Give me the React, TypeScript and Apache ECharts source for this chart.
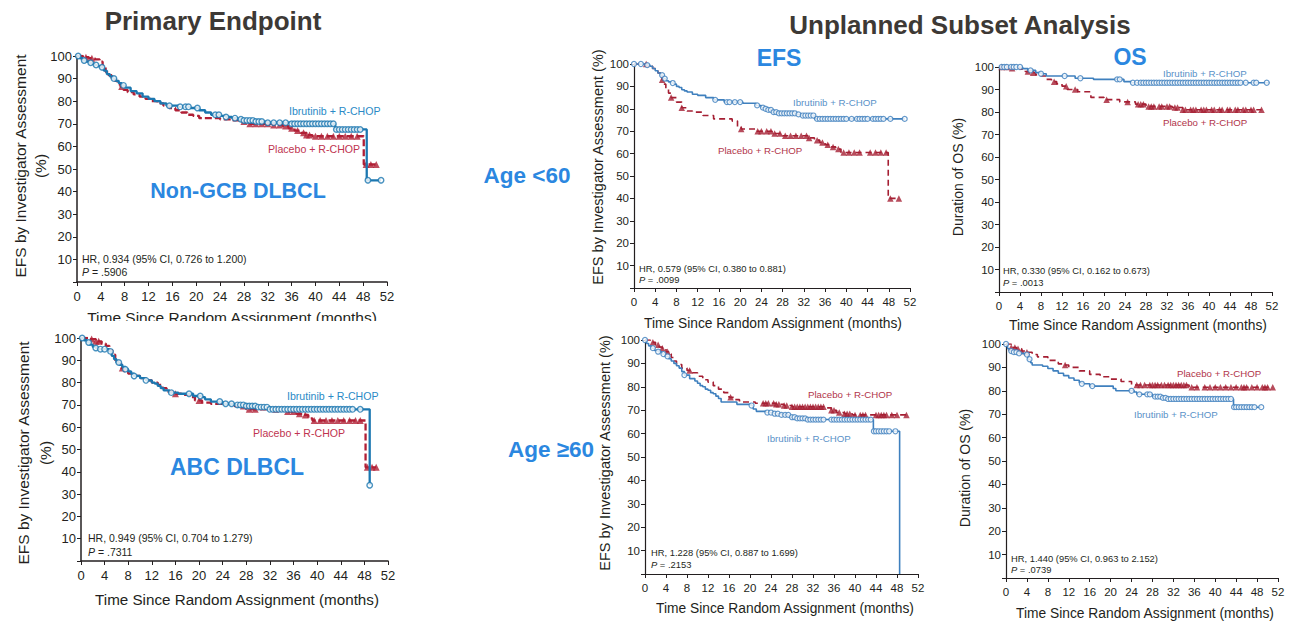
import React, { useEffect, useRef } from "react";
import * as echarts from "echarts";

// ---------- DATA ----------
const xTicks = [0, 4, 8, 12, 16, 20, 24, 28, 32, 36, 40, 44, 48, 52];
const yTicks = [10, 20, 30, 40, 50, 60, 70, 80, 90, 100];
const seriesNames = ["Ibrutinib + R-CHOP", "Placebo + R-CHOP"];

// Panel 1: Non-GCB DLBCL (EFS)
const nonGcbIbrT = [0, 0.5, 1, 1.5, 2, 2.5, 3, 3.5, 4, 4.5, 5, 5.5, 6, 6.5, 7, 7.5, 8, 9, 10, 11, 12, 13, 14, 15, 17, 19, 20.5, 21.5, 22.5, 24, 25, 26, 27, 28, 30, 32, 36, 43.3, 48.6, 51];
const nonGcbIbrS = [100, 99, 98, 97.5, 97, 96.5, 96, 95.5, 95, 93.5, 92, 91, 90, 89, 88, 87, 86, 84.5, 83.5, 82, 81, 80, 79, 78, 77.5, 77, 76, 75, 74, 73.5, 73, 72.5, 72, 71.5, 71, 70.5, 70, 67.5, 45, 45];
const nonGcbIbrC = [0.2, 1.2, 2.3, 3.2, 4.2, 6.2, 7.8, 15.5, 17.3, 18.2, 18.7, 20.2, 23.2, 23.8, 25, 26.5, 27.5, 28, 28.5, 29, 29.5, 30, 30.5, 31, 32, 33, 34, 35, 36, 36.5, 37, 37.5, 38, 38.5, 39, 39.5, 40, 40.5, 41, 41.5, 42, 42.5, 43, 43.5, 44, 44.5, 45, 45.5, 46, 46.5, 47, 47.5, 48.8, 51];
const nonGcbPlaT = [0, 1, 2, 3, 3.8, 4.3, 4.8, 5.3, 5.8, 6.3, 6.8, 7.3, 7.8, 8.5, 9.5, 10.5, 11.5, 12.5, 13.5, 14.5, 15.5, 16.5, 17.5, 18.5, 19.5, 20.5, 24, 26, 27.5, 29, 33, 34.5, 35.5, 36.5, 37.5, 38.5, 39.5, 48.1, 50.2];
const nonGcbPlaS = [100, 99.5, 99, 98.5, 97.5, 95, 93, 91.5, 90, 89, 87.5, 86.5, 85, 84, 83, 82, 81, 80, 79, 78, 77, 76, 75, 74, 73.5, 72.5, 72, 71.5, 71, 70, 69.5, 69, 68, 67, 66, 65, 64.5, 52, 52];
const nonGcbPlaC = [1.5, 2.5, 7.5, 28, 29, 30, 31, 32, 33, 34, 35, 36, 37, 38, 38.5, 39, 40, 41, 42, 43, 44, 45, 46, 47, 48.5, 49.3, 50.2];

// Panel 2: ABC DLBCL (EFS)
const abcIbrT = [0, 0.5, 1, 1.5, 2, 2.5, 3, 4.8, 5.2, 5.6, 6, 6.5, 7, 7.5, 8, 8.5, 9, 10, 11, 12, 12.5, 13, 13.5, 14, 15, 16.5, 19, 20.5, 21, 22, 24, 26, 28, 30, 32, 48.9];
const abcIbrS = [100, 99, 98, 97, 96, 95.5, 95, 94, 92, 90.5, 89, 88, 87, 86, 85, 84, 83, 82, 81, 80, 79.5, 78.5, 77.5, 76.5, 75.5, 75, 74, 73.5, 72.5, 71.5, 70.5, 70, 69.5, 69, 68, 34];
const abcIbrC = [0.2, 1.3, 2.5, 3.3, 4, 5, 6.4, 7.5, 9, 11, 15.3, 18.3, 20.2, 23.5, 24.5, 25.5, 26.5, 27, 27.5, 28, 28.5, 29, 29.5, 30, 30.5, 31, 31.5, 32, 32.5, 33, 33.5, 34, 34.5, 35, 35.5, 36, 36.5, 37, 37.5, 38, 38.5, 39, 39.5, 40, 40.5, 41, 41.5, 42, 42.5, 43, 43.5, 44, 44.5, 45, 45.5, 46, 47.3, 48.9];
const abcPlaT = [0, 1.5, 2.5, 3.5, 4.2, 4.8, 5.3, 5.8, 6.3, 6.8, 7.3, 8, 9, 10, 11, 12, 13, 13.8, 14.5, 15.5, 17, 18.5, 19.3, 20.5, 22, 26, 28, 33.5, 35, 36.5, 37.5, 38.5, 39.2, 48.2, 50];
const abcPlaS = [100, 99.5, 98.5, 97.5, 96.5, 94.5, 92.5, 90, 88.5, 86.5, 85, 84, 83, 82, 81, 80, 79, 77.5, 76, 75, 74.5, 73.5, 72, 71, 70.5, 69.5, 68, 67.5, 67, 66, 65.5, 64, 63, 42, 42];
const abcPlaC = [1.8, 2.5, 3, 7, 16, 20, 27.5, 28.5, 29.5, 33, 35, 36, 37, 38, 39.5, 40.5, 41.5, 42.5, 43.5, 44.5, 45.5, 46.5, 47.3, 48.5, 49.3, 50];

// Panel 3: EFS, age < 60
const efsYIbrT = [0, 2.5, 3, 3.5, 4, 4.5, 5, 5.5, 6, 6.5, 7, 7.5, 8, 8.5, 9, 9.5, 10, 11, 12, 13.5, 15, 17, 20.5, 23, 24, 24.5, 25, 26, 27, 30.5, 31.5, 34, 51];
const efsYIbrS = [100, 99.5, 99, 98, 97, 96, 95, 93.5, 92.5, 92, 91.5, 91, 90, 89.5, 88.5, 88, 87.5, 86.5, 86, 85, 84, 83, 82.5, 81.5, 80.5, 80, 79.5, 78.5, 78, 77.5, 77, 75.5, 75.5];
const efsYIbrC = [0, 1.3, 2.5, 5.3, 5.8, 7.3, 15.3, 17.5, 18, 19, 20, 23.2, 24.3, 24.8, 25.3, 25.8, 26.3, 26.8, 27.3, 27.8, 28.3, 28.8, 29.3, 29.8, 30.3, 31, 31.8, 32.3, 32.8, 33.3, 33.8, 34.5, 35, 35.5, 36, 36.5, 37, 37.5, 38, 38.5, 39, 39.5, 40, 41, 42, 42.5, 43, 43.5, 44, 45, 45.5, 46, 46.5, 47, 48.3, 51];
const efsYPlaT = [0, 2.5, 3, 3.5, 4, 4.5, 5, 5.3, 5.6, 6, 6.5, 7, 8, 9, 10, 11, 13, 15, 18.5, 19.5, 20.2, 23, 26, 28, 33, 34, 35, 36, 37, 38, 39, 47.9, 50];
const efsYPlaS = [100, 99.5, 99, 98, 97, 96, 94.5, 93, 91, 89, 87, 85, 83, 80.5, 79, 78.5, 77, 75.5, 74.5, 72, 71, 70, 69, 68, 67, 66, 65, 64, 63, 62, 60.5, 40, 40];
const efsYPlaC = [2.3, 5.3, 7, 9, 20.2, 23.3, 24, 25, 25.8, 26.5, 27.5, 28.5, 29.5, 30.5, 31.5, 32.5, 33, 34.5, 35.5, 36.5, 37.5, 38.5, 39.5, 40.5, 41.5, 42.5, 44.5, 45.5, 46.5, 47.5, 48.3, 49.9];

// Panel 4: EFS, age >= 60
const efsOIbrT = [0, 0.3, 0.7, 1.2, 1.8, 2.5, 3.2, 3.8, 4.5, 5, 5.5, 6, 6.5, 7, 7.5, 8.5, 9.5, 10, 10.5, 11, 11.5, 12, 12.5, 13, 13.5, 14, 14.5, 17.5, 20.2, 20.6, 21.2, 23, 24.5, 26, 27.5, 29, 31, 43.5, 48.5];
const efsOIbrS = [100, 98.5, 97.5, 96.5, 95.5, 95, 94, 93, 92, 91, 90, 89, 88, 86.5, 85, 83.5, 82.5, 81.5, 80.5, 80, 79, 78.5, 77.5, 77, 76, 75, 73.5, 72.5, 72, 70.5, 69.5, 69, 68.5, 68, 67, 66.5, 66, 61, 0];
const efsOIbrC = [0, 1.5, 2.5, 3.5, 4.3, 7.5, 20.3, 23.3, 24, 24.7, 25.3, 26, 26.7, 27.3, 28, 28.5, 29, 29.5, 30, 30.5, 31, 31.5, 32, 32.5, 33, 33.5, 34, 35.5, 36, 36.5, 37, 37.5, 38, 38.5, 39, 39.5, 40, 40.5, 41, 41.5, 42, 42.5, 43, 43.6, 44, 44.5, 45, 45.5, 46, 46.5, 47.7];
const efsOPlaT = [0, 1, 2, 2.7, 3.3, 4, 4.5, 5, 5.5, 6, 7, 8, 9, 10, 11, 12, 13, 14, 15, 16, 17, 18, 21, 25, 26.5, 28, 34.5, 35.5, 36.5, 38, 39.5, 50];
const efsOPlaS = [100, 99, 98, 97, 96.5, 95, 94, 92.5, 91, 89.5, 88, 87, 86, 84.5, 83, 82, 80.5, 79, 77.5, 75.5, 74.5, 73.5, 73, 72.5, 72, 71.5, 71, 70, 69, 68.5, 68, 68];
const efsOPlaC = [1.5, 2.5, 3.3, 4.3, 8.5, 16.3, 22.5, 23, 23.5, 24.5, 25, 25.5, 26.5, 27, 28, 28.5, 29, 29.5, 30, 30.5, 31, 31.5, 32, 32.5, 33, 33.5, 34, 35.5, 36, 37, 38, 38.5, 39, 40, 41, 41.5, 42, 44, 44.5, 45, 45.5, 46, 47, 48, 49.8];

// Panel 5: OS, age < 60
const osYIbrT = [0, 4.5, 5.5, 7, 8, 9, 14.5, 18, 23.8, 25.2, 51.5];
const osYIbrS = [100, 99.3, 98.5, 97.5, 97, 96, 95, 94.5, 93.5, 93, 93];
const osYIbrC = [0.5, 1, 1.5, 2.3, 2.8, 3.3, 4, 6, 8, 12.5, 15.5, 22.5, 23, 25.5, 26.3, 27, 27.5, 28, 28.5, 29, 29.5, 30, 30.5, 31, 31.5, 32, 32.5, 33, 33.5, 34, 34.5, 35, 35.5, 36, 36.5, 37, 37.5, 38, 38.5, 39, 39.5, 40, 40.5, 41, 41.5, 42, 42.5, 43, 43.5, 44, 44.5, 45, 45.5, 46, 47, 48.5, 49, 51];
const osYPlaT = [0, 2, 4, 5, 6, 7, 8, 9, 10, 11, 12, 13, 15, 17.5, 20, 23, 26, 28, 33, 35, 50];
const osYPlaS = [100, 99.5, 99, 98, 97.5, 96.5, 96, 94.5, 93.5, 92.5, 91.5, 90, 89, 86.5, 85.5, 84.5, 83.5, 82.5, 82, 81, 81];
const osYPlaC = [0.5, 1.5, 2.5, 5.5, 6.5, 10.5, 12.8, 14.5, 20.5, 24.5, 26.5, 27, 27.5, 28.5, 29, 29.5, 30.5, 31, 32, 32.5, 33.5, 34, 35, 35.5, 36.5, 37, 37.5, 38.5, 39, 39.5, 40.5, 41, 42, 42.5, 43.5, 44, 45, 45.5, 46.5, 47, 48, 48.5, 50];

// Panel 6: OS, age >= 60
const osOIbrT = [0, 0.3, 0.7, 1.5, 2.5, 3.5, 4.2, 4.7, 5, 7, 8, 9, 10, 11, 12, 13, 14, 14.5, 16, 20.5, 21, 24.5, 25, 28, 30, 31, 43.5, 48.8];
const osOIbrS = [100, 98, 97, 96.5, 96, 95.5, 93.5, 92, 91, 90.5, 89.5, 88.5, 87.5, 86.5, 85.5, 84.5, 83.5, 83, 82, 81, 80, 79.5, 78.5, 77.5, 77, 76.5, 73, 73];
const osOIbrC = [0, 1, 1.5, 2, 2.5, 4, 4.5, 14.5, 16.5, 24, 25.5, 27, 27.5, 28.5, 29, 29.5, 30, 30.5, 31, 31.5, 32, 32.5, 33, 33.5, 34, 34.5, 35, 35.5, 36, 36.5, 37, 37.5, 38, 38.5, 39, 39.5, 40, 40.5, 41, 41.5, 42, 42.5, 43, 43.6, 44, 44.5, 45, 45.5, 46, 46.5, 47, 47.5, 48.8];
const osOPlaT = [0, 1, 2, 3, 4, 5, 6, 8, 10, 11, 12, 14, 16, 18, 20, 22, 24, 35, 51];
const osOPlaS = [100, 98.5, 98, 97, 96.5, 95.5, 94.5, 93, 91.5, 91, 90, 88.5, 87, 86, 85, 84, 82.5, 81.5, 81.5];
const osOPlaC = [1, 1.7, 2.3, 3, 4, 11.3, 25, 25.7, 26.5, 27.5, 28, 28.5, 29, 29.7, 30.3, 31, 31.5, 32, 32.5, 33, 33.5, 34, 34.5, 35.5, 36.5, 38, 39, 40, 41, 42, 43, 44, 45, 45.5, 46, 47, 48, 49, 49.5, 50, 51];

const hrTexts = [
  "HR, 0.934 (95% CI, 0.726 to 1.200)",
  "HR, 0.949 (95% CI, 0.704 to 1.279)",
  "HR, 0.579 (95% CI, 0.380 to 0.881)",
  "HR, 1.228 (95% CI, 0.887 to 1.699)",
  "HR, 0.330 (95% CI, 0.162 to 0.673)",
  "HR, 1.440 (95% CI, 0.963 to 2.152)",
];
const pValues = [".5906", ".7311", ".0099", ".2153", ".0013", ".0739"];

// ---------- LAYOUT ----------
const FONT = '"Liberation Sans", Arial, Helvetica, sans-serif';
const BLUE_HEAD = "#2b87e0";
const HEAD_GRAY = "#3d3935";

type Layout = {
  grid: { left: number; top: number; width: number; height: number };
  big: boolean;
  yTitle: string; yTitleX: number; yTitleY: number;
  xTitleX: number; xTitleY: number; xTitleSize: number; yTitleSize: number;
  hrX: number; hrY: number; pY: number;
  ibrLab: [number, number]; plaLab: [number, number];
};

const layouts: Layout[] = [
  { grid: { left: 77, top: 56, width: 310, height: 226 }, big: true, yTitle: "EFS by Investigator Assessment\n(%)", yTitleX: 30, yTitleY: 166, xTitleX: 232, xTitleY: 317, xTitleSize: 15.5, yTitleSize: 15.5, hrX: 82, hrY: 259, pY: 272, ibrLab: [289, 111], plaLab: [268, 149] },
  { grid: { left: 81, top: 338, width: 307, height: 223 }, big: true, yTitle: "EFS by Investigator Assessment\n(%)", yTitleX: 34, yTitleY: 453, xTitleX: 237, xTitleY: 599, xTitleSize: 15.2, yTitleSize: 15.5, hrX: 88, hrY: 538, pY: 552, ibrLab: [287, 396], plaLab: [253, 433] },
  { grid: { left: 634, top: 64, width: 276, height: 224 }, big: false, yTitle: "EFS by Investigator Assessment (%)", yTitleX: 598, yTitleY: 167, xTitleX: 773, xTitleY: 323, xTitleSize: 13.8, yTitleSize: 14.5, hrX: 639, hrY: 268, pY: 279, ibrLab: [793, 102], plaLab: [718, 150] },
  { grid: { left: 645, top: 340, width: 273, height: 234 }, big: false, yTitle: "EFS by Investigator Assessment (%)", yTitleX: 605, yTitleY: 453, xTitleX: 785, xTitleY: 608, xTitleSize: 13.8, yTitleSize: 14.5, hrX: 651, hrY: 552, pY: 564, ibrLab: [767, 438], plaLab: [808, 394] },
  { grid: { left: 999, top: 67, width: 273, height: 225 }, big: false, yTitle: "Duration of OS (%)", yTitleX: 958, yTitleY: 177, xTitleX: 1138, xTitleY: 325, xTitleSize: 13.8, yTitleSize: 14, hrX: 1003, hrY: 270, pY: 282, ibrLab: [1163, 73], plaLab: [1163, 122] },
  { grid: { left: 1006, top: 344, width: 272, height: 234 }, big: false, yTitle: "Duration of OS (%)", yTitleX: 965, yTitleY: 468, xTitleX: 1145, xTitleY: 613, xTitleSize: 13.8, yTitleSize: 14, hrX: 1011, hrY: 558, pY: 569, ibrLab: [1134, 414], plaLab: [1177, 373] },
];

const panelData = [
  { ibr: [nonGcbIbrT, nonGcbIbrS, nonGcbIbrC], pla: [nonGcbPlaT, nonGcbPlaS, nonGcbPlaC] },
  { ibr: [abcIbrT, abcIbrS, abcIbrC], pla: [abcPlaT, abcPlaS, abcPlaC] },
  { ibr: [efsYIbrT, efsYIbrS, efsYIbrC], pla: [efsYPlaT, efsYPlaS, efsYPlaC] },
  { ibr: [efsOIbrT, efsOIbrS, efsOIbrC], pla: [efsOPlaT, efsOPlaS, efsOPlaC] },
  { ibr: [osYIbrT, osYIbrS, osYIbrC], pla: [osYPlaT, osYPlaS, osYPlaC] },
  { ibr: [osOIbrT, osOIbrS, osOIbrC], pla: [osOPlaT, osOPlaS, osOPlaC] },
];

function survAt(T: number[], S: number[], t: number): number {
  let v = S[0];
  for (let i = 0; i < T.length; i++) {
    if (T[i] <= t) v = S[i];
    else break;
  }
  return v;
}

function buildOption() {
  const grid: any[] = [];
  const xAxis: any[] = [];
  const yAxis: any[] = [];
  const series: any[] = [];
  const graphic: any[] = [];

  layouts.forEach((L, i) => {
    const axisColor = "#231f20";
    const labelSize = L.big ? 13 : 11.5;
    const ibrColor = L.big ? "#1b77b0" : "#3f80be";
    const plaColor = L.big ? "#b01f35" : "#a51f33";
    const lw = L.big ? 2.3 : 1.6;
    grid.push({ ...L.grid, containLabel: false });
    xAxis.push({
      type: "value", gridIndex: i, min: xTicks[0], max: xTicks[xTicks.length - 1], interval: 4,
      axisLine: { show: true, onZero: false, lineStyle: { color: axisColor, width: L.big ? 1.5 : 1.2 } },
      axisTick: { show: true, length: 4, lineStyle: { color: axisColor } },
      axisLabel: { color: "#231f20", fontSize: labelSize, fontFamily: FONT, margin: 8 },
      splitLine: { show: false },
    });
    yAxis.push({
      type: "value", gridIndex: i, min: 0, max: yTicks[yTicks.length - 1], interval: 10,
      axisLine: { show: true, onZero: false, lineStyle: { color: axisColor, width: L.big ? 1.5 : 1.2 } },
      axisTick: { show: true, length: 4, lineStyle: { color: axisColor } },
      axisLabel: {
        color: "#231f20", fontSize: labelSize, fontFamily: FONT, margin: 5,
        formatter: (v: number) => (yTicks.indexOf(v) >= 0 ? String(v) : ""),
      },
      splitLine: { show: false },
    });
    const d = panelData[i];
    const [pT, pS, pC] = d.pla;
    const [iT, iS, iC] = d.ibr;
    series.push({
      type: "line", name: seriesNames[1], xAxisIndex: i, yAxisIndex: i, step: "end", showSymbol: false,
      data: pT.map((t, k) => [t, pS[k]]),
      lineStyle: { color: plaColor, width: lw, type: L.big ? [7, 3] : [6, 4] }, z: 2,
    });
    series.push({
      type: "line", name: seriesNames[0], xAxisIndex: i, yAxisIndex: i, step: "end", showSymbol: false,
      data: iT.map((t, k) => [t, iS[k]]),
      lineStyle: { color: ibrColor, width: lw }, z: 3,
    });
    series.push({
      type: "scatter", name: seriesNames[1] + " censored", xAxisIndex: i, yAxisIndex: i,
      symbol: "triangle", symbolSize: L.big ? 7 : 6.5,
      data: pC.map((t) => [t, survAt(pT, pS, t)]),
      itemStyle: { color: plaColor }, z: 2,
    });
    series.push({
      type: "scatter", name: seriesNames[0] + " censored", xAxisIndex: i, yAxisIndex: i,
      symbol: "circle", symbolSize: L.big ? 5.5 : 5,
      data: iC.map((t) => [t, survAt(iT, iS, t)]),
      itemStyle: { color: "#ffffff", borderColor: ibrColor, borderWidth: L.big ? 1.4 : 1.2 }, z: 4,
    });

    const smallSize = L.big ? 10.5 : 9.4;
    const labSize = L.big ? 10.6 : 9.7;
    // y title
    graphic.push({
      type: "text", x: L.yTitleX, y: L.yTitleY, rotation: Math.PI / 2,
      style: {
        text: L.yTitle, fill: "#231f20", fontSize: L.yTitleSize, fontFamily: FONT,
        align: "center", verticalAlign: "middle", textAlign: "center", textVerticalAlign: "middle",
        lineHeight: i < 2 ? (i === 0 ? 20 : 22) : undefined,
      },
    });
    // x title
    graphic.push({
      type: "text", x: L.xTitleX, y: L.xTitleY,
      style: {
        text: "Time Since Random Assignment (months)", fill: "#231f20", fontSize: L.xTitleSize, fontFamily: FONT,
        align: "center", verticalAlign: "middle", textAlign: "center", textVerticalAlign: "middle",
      },
    });
    // HR & P
    graphic.push({
      type: "text", x: L.hrX, y: L.hrY,
      style: { text: hrTexts[i], fill: "#231f20", fontSize: smallSize, fontFamily: FONT, align: "left", verticalAlign: "middle", textAlign: "left", textVerticalAlign: "middle" },
    });
    graphic.push({
      type: "text", x: L.hrX, y: L.pY,
      style: {
        text: "{i|P} = " + pValues[i], fill: "#231f20", fontSize: smallSize, fontFamily: FONT,
        align: "left", verticalAlign: "middle", textAlign: "left", textVerticalAlign: "middle",
        rich: { i: { fontStyle: "italic", fontSize: smallSize, fontFamily: FONT, fill: "#231f20" } },
      },
    });
    // series labels
    graphic.push({
      type: "text", x: L.ibrLab[0], y: L.ibrLab[1],
      style: { text: seriesNames[0], fill: L.big ? "#2a8ac6" : "#5a91c8", fontSize: labSize, fontFamily: FONT, align: "left", verticalAlign: "middle", textAlign: "left", textVerticalAlign: "middle" },
    });
    graphic.push({
      type: "text", x: L.plaLab[0], y: L.plaLab[1],
      style: { text: seriesNames[1], fill: L.big ? "#c0344f" : "#b1344a", fontSize: labSize, fontFamily: FONT, align: "left", verticalAlign: "middle", textAlign: "left", textVerticalAlign: "middle" },
    });
  });

  // cover lower part of the clipped x title of panel 1 (as in the reference)
  graphic.push({ type: "rect", shape: { x: 70, y: 321, width: 340, height: 10 }, style: { fill: "#ffffff" }, z: 100 });

  const head = (text: string, x: number, y: number, size: number, color: string) => ({
    type: "text", x, y,
    style: { text, fill: color, fontSize: size, fontWeight: "bold", fontFamily: FONT, align: "center", verticalAlign: "middle", textAlign: "center", textVerticalAlign: "middle" },
  });
  graphic.push(head("Primary Endpoint", 213, 21, 26, HEAD_GRAY));
  graphic.push(head("Unplanned Subset Analysis", 960, 25, 26, HEAD_GRAY));
  graphic.push(head("EFS", 779, 58, 23, BLUE_HEAD));
  graphic.push(head("OS", 1130, 57, 23, BLUE_HEAD));
  graphic.push(head("Age <60", 527, 175, 22.5, BLUE_HEAD));
  graphic.push(head("Age \u226560", 551, 449, 22.5, BLUE_HEAD));
  graphic.push(head("Non-GCB DLBCL", 238, 191, 21.5, BLUE_HEAD));
  graphic.push(head("ABC DLBCL", 237, 467, 23, BLUE_HEAD));

  return {
    animation: false,
    backgroundColor: "#ffffff",
    grid, xAxis, yAxis, series, graphic,
  };
}

export default function App() {
  const ref = useRef<HTMLDivElement>(null);
  useEffect(() => {
    if (!ref.current) return;
    const chart = echarts.init(ref.current, undefined, { renderer: "svg" });
    chart.setOption(buildOption());
    return () => chart.dispose();
  }, []);
  return (
    <div
      ref={ref}
      style={{ position: "absolute", left: 0, top: 0, width: 1290, height: 621, background: "#fff" }}
    />
  );
}
